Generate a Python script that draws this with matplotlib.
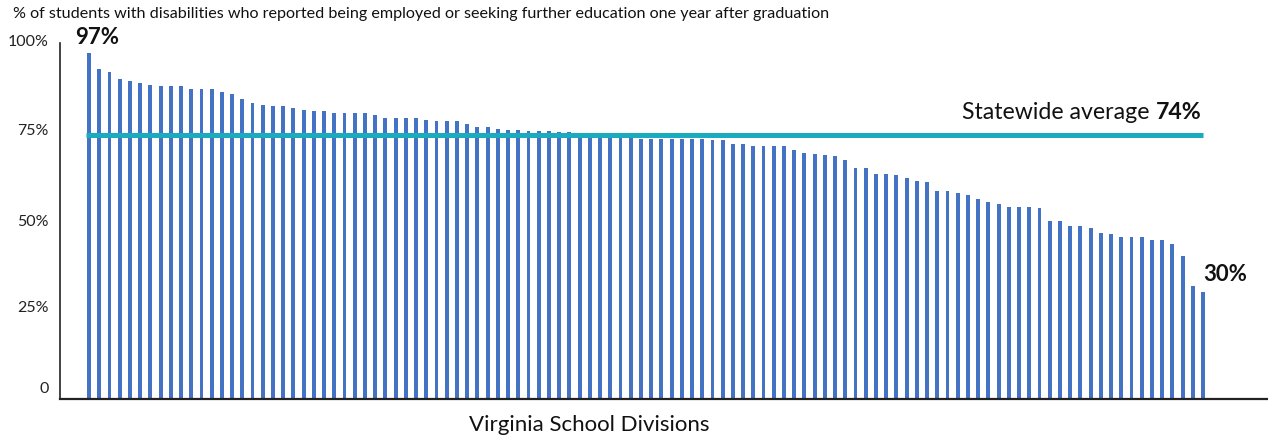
import matplotlib
matplotlib.use("Agg")
import matplotlib.pyplot as plt
from matplotlib.transforms import ScaledTranslation

plt.rcParams['font.family'] = ['Lato', 'DejaVu Sans']

values = [
    97.0, 92.6, 91.8, 89.7, 89.1, 88.7, 88.0, 87.7, 87.7, 87.7,
    87.0, 87.0, 86.9, 86.0, 85.6, 84.2, 83.0, 82.4, 82.1, 82.1,
    81.5, 81.0, 80.7, 80.7, 80.2, 80.2, 80.2, 80.1, 79.6, 78.7,
    78.7, 78.7, 78.7, 78.2, 78.0, 78.0, 78.0, 77.1, 76.2, 76.2,
    75.6, 75.5, 75.5, 75.3, 75.3, 75.3, 74.8, 74.8, 74.4, 74.2,
    74.2, 73.6, 73.5, 73.2, 72.9, 72.9, 72.9, 72.9, 72.9, 72.9,
    72.9, 72.6, 72.6, 71.6, 71.6, 70.9, 70.9, 70.9, 70.9, 69.8,
    68.9, 68.6, 68.4, 68.2, 67.0, 64.8, 64.8, 63.1, 63.1, 62.7,
    62.1, 61.2, 61.0, 58.3, 58.3, 57.9, 57.3, 56.1, 55.2, 54.7,
    53.9, 53.9, 53.9, 53.7, 50.0, 50.0, 48.5, 48.5, 48.1, 46.6,
    46.3, 45.5, 45.5, 45.5, 44.5, 44.5, 43.6, 40.0, 31.6, 29.9,
]
statewide_avg = 74
ytick_vals = [0, 25, 50, 75, 100]
ytick_labels = ["0", "25%", "50%", "75%", "100%"]
title = "% of students with disabilities who reported being employed or seeking further education one year after graduation"
xlabel = "Virginia School Divisions"

W, H = 1268, 441
fig = plt.figure(figsize=(W / 100, H / 100), dpi=100)
ax = fig.add_axes([60 / W, (H - 399) / H, (W - 60) / W, (399 - 42.5) / H])

n = len(values)
x = list(range(n))
bar_color = "#4472C4"
ax.bar(x, values, width=0.38, color=bar_color, zorder=2)

ax.set_xlim(-2.84, n - 1 + 6.36)
ax.set_ylim(0, 100)

ax.hlines(statewide_avg, -0.3, n - 1, color="#1AABBF", linewidth=3.6, zorder=3)

# Statewide label (regular + bold parts)
t1 = ax.annotate(f"{statewide_avg}%", xy=(n - 1, statewide_avg), xytext=(-1, 9),
                 textcoords="offset points", ha="right", va="bottom",
                 fontsize=16.7, fontweight="bold", color="#111111")
fig.canvas.draw()
bb = t1.get_window_extent()
ax.annotate("Statewide average ", xy=(n - 1, statewide_avg), xytext=(-1 - bb.width * 72 / 100, 9),
            textcoords="offset points", ha="right", va="bottom",
            fontsize=16.7, color="#111111")

ax.annotate(f"{values[0]:.0f}%", xy=(0, values[0]), xytext=(5.5, 4),
            textcoords="offset points", ha="center", va="bottom",
            fontsize=16, fontweight="bold", color="#111111")
ax.annotate(f"{values[-1]:.0f}%", xy=(n - 1, values[-1]), xytext=(0, 5),
            textcoords="offset points", ha="left", va="bottom",
            fontsize=16, fontweight="bold", color="#111111")

ax.set_yticks(ytick_vals)
ax.set_yticklabels(ytick_labels, fontsize=11.5, color="#222222")
ax.tick_params(axis="y", length=0, pad=8)
ax.set_xticks([])
lbls = ax.get_yticklabels()
shifts = [8, 2.2, 0, 1.4, 1.8]
for lbl, s in zip(lbls, shifts):
    lbl.set_transform(lbl.get_transform() + ScaledTranslation(0, s / 72, fig.dpi_scale_trans))

for s in ["top", "right"]:
    ax.spines[s].set_visible(False)
ax.spines["left"].set_linewidth(1.2)
ax.spines["left"].set_color("#222222")
ax.spines["bottom"].set_linewidth(1.6)
ax.spines["bottom"].set_color("#222222")

fig.text(13 / W, 1 - 14 / H, title, fontsize=11.6, ha="left", va="center", color="#111111")
fig.text(589 / W, 1 - 425 / H, xlabel, fontsize=16, ha="center", va="center", color="#111111")

fig.savefig("out.png", dpi=100)
